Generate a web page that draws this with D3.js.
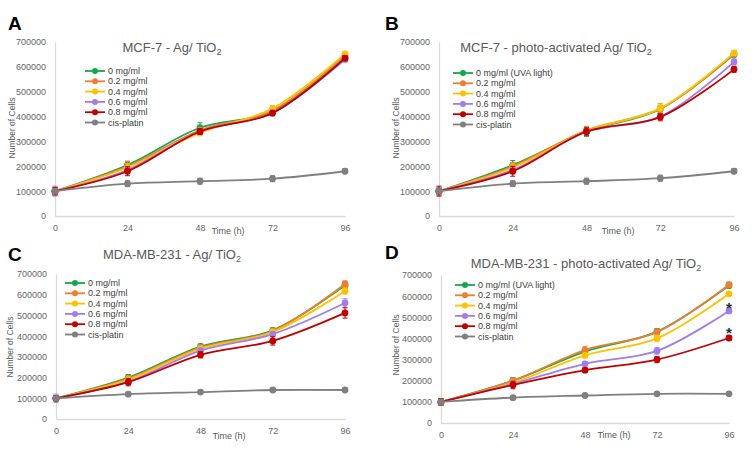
<!DOCTYPE html>
<html>
<head>
<meta charset="utf-8">
<script src="https://cdn.jsdelivr.net/npm/d3@7"></script>
<style>
  body { margin: 0; background: #fff; }
  svg { font-family: "Liberation Sans", Arial, sans-serif; }
  .tick-lbl { fill: #666; font-size: 9px; }
  .leg-lbl { fill: #404040; font-size: 9px; }
</style>
</head>
<body>
<div id="chart"></div>
<script>
// time points (h) and y ticks
var hours = [0, 24, 48, 72, 96];
var yTicks = [0, 100000, 200000, 300000, 400000, 500000, 600000, 700000];

var seriesNames = ["0 mg/ml", "0.2 mg/ml", "0.4 mg/ml", "0.6 mg/ml", "0.8 mg/ml", "cis-platin"];
var seriesNamesUva = ["0 mg/ml (UVA light)", "0.2 mg/ml", "0.4 mg/ml", "0.6 mg/ml", "0.8 mg/ml", "cis-platin"];
var colors = ["#12a84a", "#ed7d31", "#ffc000", "#a07ee6", "#c00000", "#7f7f7f"];

// A: MCF-7 Ag/TiO2  (rows follow seriesNames)
var mcfAg = [
  [100000, 205000, 355000, 420000, 640000],
  [100000, 200000, 345000, 425000, 645000],
  [100000, 195000, 335000, 432000, 652000],
  [100000, 185000, 340000, 415000, 630000],
  [100000, 180000, 340000, 414000, 635000],
  [100000, 130000, 140000, 150000, 180000]
];
var mcfAgErr = [
  [15000, 15000, 20000, 12000, 10000],
  [15000, 20000, 12000, 12000, 10000],
  [15000, 15000, 12000, 12000, 10000],
  [20000, 15000, 12000, 12000, 10000],
  [15000, 18000, 12000, 10000, 10000],
  [10000, 12000, 12000, 12000, 10000]
];

// B: MCF-7 photo-activated Ag/TiO2
var mcfPhoto = [
  [100000, 205000, 340000, 430000, 650000],
  [100000, 200000, 345000, 432000, 652000],
  [100000, 195000, 342000, 433000, 656000],
  [100000, 185000, 338000, 400000, 620000],
  [100000, 180000, 340000, 398000, 590000],
  [100000, 130000, 140000, 152000, 180000]
];
var mcfPhotoErr = [
  [15000, 18000, 20000, 15000, 10000],
  [15000, 15000, 15000, 20000, 10000],
  [15000, 15000, 15000, 18000, 10000],
  [15000, 15000, 15000, 12000, 12000],
  [20000, 20000, 15000, 15000, 12000],
  [10000, 12000, 12000, 12000, 10000]
];

// C: MDA-MB-231 Ag/TiO2
var mdaAg = [
  [100000, 200000, 350000, 428000, 645000],
  [100000, 195000, 345000, 425000, 652000],
  [100000, 190000, 340000, 420000, 618000],
  [100000, 180000, 330000, 410000, 560000],
  [100000, 178000, 310000, 377000, 512000],
  [100000, 120000, 130000, 140000, 140000]
];
var mdaAgErr = [
  [12000, 15000, 12000, 12000, 15000],
  [12000, 15000, 12000, 12000, 15000],
  [12000, 12000, 12000, 12000, 15000],
  [20000, 15000, 12000, 12000, 20000],
  [12000, 18000, 15000, 20000, 25000],
  [5000, 5000, 5000, 5000, 5000]
];

// D: MDA-MB-231 photo-activated Ag/TiO2
var mdaPhoto = [
  [100000, 200000, 338000, 432000, 650000],
  [100000, 200000, 345000, 430000, 654000],
  [100000, 190000, 320000, 400000, 611000],
  [100000, 185000, 280000, 341000, 530000],
  [100000, 180000, 250000, 300000, 402000],
  [100000, 120000, 130000, 138000, 138000]
];
var mdaPhotoErr = [
  [15000, 15000, 15000, 15000, 12000],
  [15000, 12000, 18000, 15000, 12000],
  [15000, 12000, 12000, 15000, 8000],
  [15000, 12000, 10000, 15000, 12000],
  [15000, 18000, 10000, 15000, 12000],
  [5000, 5000, 5000, 5000, 5000]
];
// asterisks at 96 h (series index, value where drawn)
var starMarks = [[3, 572000], [4, 452000]];

var W = 756, H = 449;
var svg = d3.select("#chart").append("svg")
    .attr("width", W)
    .attr("height", H);

var panels = [
  {letter: "A", names: seriesNames, vals: mcfAg, errs: mcfAgErr, cell: "MCF-7 - Ag/ TiO", stars: [],
   x0: 55, x1: 345, y0: 216, y1: 42, tx: 172, ty: 52, lx: 85, ly: 71, ytx: 12, yty: 128, timeX: 228, timeY: 234, lt: [8, 30]},
  {letter: "B", names: seriesNamesUva, vals: mcfPhoto, errs: mcfPhotoErr, cell: "MCF-7 - photo-activated Ag/ TiO", stars: [],
   x0: 439, x1: 734, y0: 216, y1: 42, tx: 556, ty: 52, lx: 453, ly: 73, ytx: 396, yty: 128, timeX: 618, timeY: 234, lt: [385, 30]},
  {letter: "C", names: seriesNames, vals: mdaAg, errs: mdaAgErr, cell: "MDA-MB-231 - Ag/ TiO", stars: [],
   x0: 56, x1: 345, y0: 419, y1: 274, tx: 172, ty: 259, lx: 65, ly: 283, ytx: 10, yty: 347, timeX: 229, timeY: 439, lt: [8, 261]},
  {letter: "D", names: seriesNamesUva, vals: mdaPhoto, errs: mdaPhotoErr, cell: "MDA-MB-231 - photo-activated Ag/ TiO", stars: starMarks,
   x0: 441, x1: 729, y0: 423, y1: 275, tx: 586, ty: 268, lx: 455, ly: 285, ytx: 396, yty: 345, timeX: 614, timeY: 438, lt: [385, 259]}
];

panels.forEach(function(p) {
  var x = d3.scaleLinear().domain([0, 96]).range([p.x0, p.x1]);
  var y = d3.scaleLinear().domain([0, 700000]).range([p.y0, p.y1]);
  var g = svg.append("g");

  // panel letter
  g.append("text")
      .attr("x", p.lt[0]).attr("y", p.lt[1])
      .style("font-size", "19px").style("font-weight", "bold").style("fill", "#000")
      .text(p.letter);

  // title with subscript
  var t = g.append("text")
      .attr("x", p.tx).attr("y", p.ty)
      .attr("text-anchor", "middle")
      .style("font-size", "13px").style("fill", "#595959");
  t.append("tspan").text(p.cell);
  t.append("tspan").attr("dy", 3).style("font-size", "9px").text("2");

  // axes
  var yAxis = d3.axisLeft(y).tickValues(yTicks).tickSize(0).tickPadding(9).tickFormat(d3.format("d"));
  var xAxis = d3.axisBottom(x).tickValues(hours).tickSize(0).tickPadding(9);

  var ya = g.append("g").attr("transform", "translate(" + p.x0 + ",0)").call(yAxis);
  ya.select(".domain").attr("stroke", "#d9d9d9").attr("stroke-width", 1.3);
  ya.selectAll("text").attr("class", "tick-lbl").attr("font-family", null).attr("font-size", null);

  var xa = g.append("g").attr("transform", "translate(0," + p.y0 + ")").call(xAxis);
  xa.select(".domain").attr("stroke", "#d9d9d9").attr("stroke-width", 1.3);
  xa.selectAll("text").attr("class", "tick-lbl").attr("font-family", null).attr("font-size", null);

  g.append("text")
      .attr("transform", "translate(" + p.ytx + "," + p.yty + ") rotate(-90)")
      .attr("text-anchor", "middle").attr("dy", "0.35em")
      .style("font-size", "8.5px").style("fill", "#595959")
      .text("Number of Cells");

  g.append("text")
      .attr("x", p.timeX).attr("y", p.timeY)
      .attr("text-anchor", "middle")
      .style("font-size", "9px").style("fill", "#595959")
      .text("Time (h)");

  var line = d3.line()
      .x(function(d, i) { return x(hours[i]); })
      .y(function(d) { return y(d); })
      .curve(d3.curveCatmullRom.alpha(0.5));

  // series drawn in legend order, later ones on top
  p.vals.forEach(function(vals, si) {
    var errs = p.errs[si], c = colors[si];
    var s = g.append("g");
    s.append("path")
        .datum(vals)
        .attr("d", line)
        .attr("fill", "none")
        .attr("stroke", c)
        .attr("stroke-width", 1.8);
    var eb = s.selectAll(".eb").data(vals).enter().append("g");
    eb.append("line")
        .attr("x1", function(d, i) { return x(hours[i]); })
        .attr("x2", function(d, i) { return x(hours[i]); })
        .attr("y1", function(d, i) { return y(d - errs[i]); })
        .attr("y2", function(d, i) { return y(d + errs[i]); })
        .attr("stroke", c).attr("stroke-width", 1);
    [-1, 1].forEach(function(sg) {
      eb.append("line")
          .attr("x1", function(d, i) { return x(hours[i]) - 2.5; })
          .attr("x2", function(d, i) { return x(hours[i]) + 2.5; })
          .attr("y1", function(d, i) { return y(d + sg * errs[i]); })
          .attr("y2", function(d, i) { return y(d + sg * errs[i]); })
          .attr("stroke", c).attr("stroke-width", 1);
    });
    s.selectAll(".pt").data(vals).enter().append("circle")
        .attr("cx", function(d, i) { return x(hours[i]); })
        .attr("cy", function(d) { return y(d); })
        .attr("r", 3.4)
        .attr("fill", c);
  });

  // significance marks
  p.stars.forEach(function(st) {
    g.append("text")
        .attr("x", x(96)).attr("y", y(st[1]))
        .attr("text-anchor", "middle").attr("dy", "0.7em")
        .style("font-size", "15px").style("font-weight", "bold").style("fill", "#1f2d3d")
        .text("*");
  });

  // legend
  var leg = g.append("g");
  p.names.forEach(function(n, i) {
    var ly = p.ly + i * 10.3;
    leg.append("line")
        .attr("x1", p.lx).attr("x2", p.lx + 20)
        .attr("y1", ly).attr("y2", ly)
        .attr("stroke", colors[i]).attr("stroke-width", 1.8);
    leg.append("circle")
        .attr("cx", p.lx + 10).attr("cy", ly).attr("r", 3)
        .attr("fill", colors[i]);
    leg.append("text")
        .attr("class", "leg-lbl")
        .attr("x", p.lx + 23).attr("y", ly).attr("dy", "0.35em")
        .text(n);
  });
});
</script>
</body>
</html>
